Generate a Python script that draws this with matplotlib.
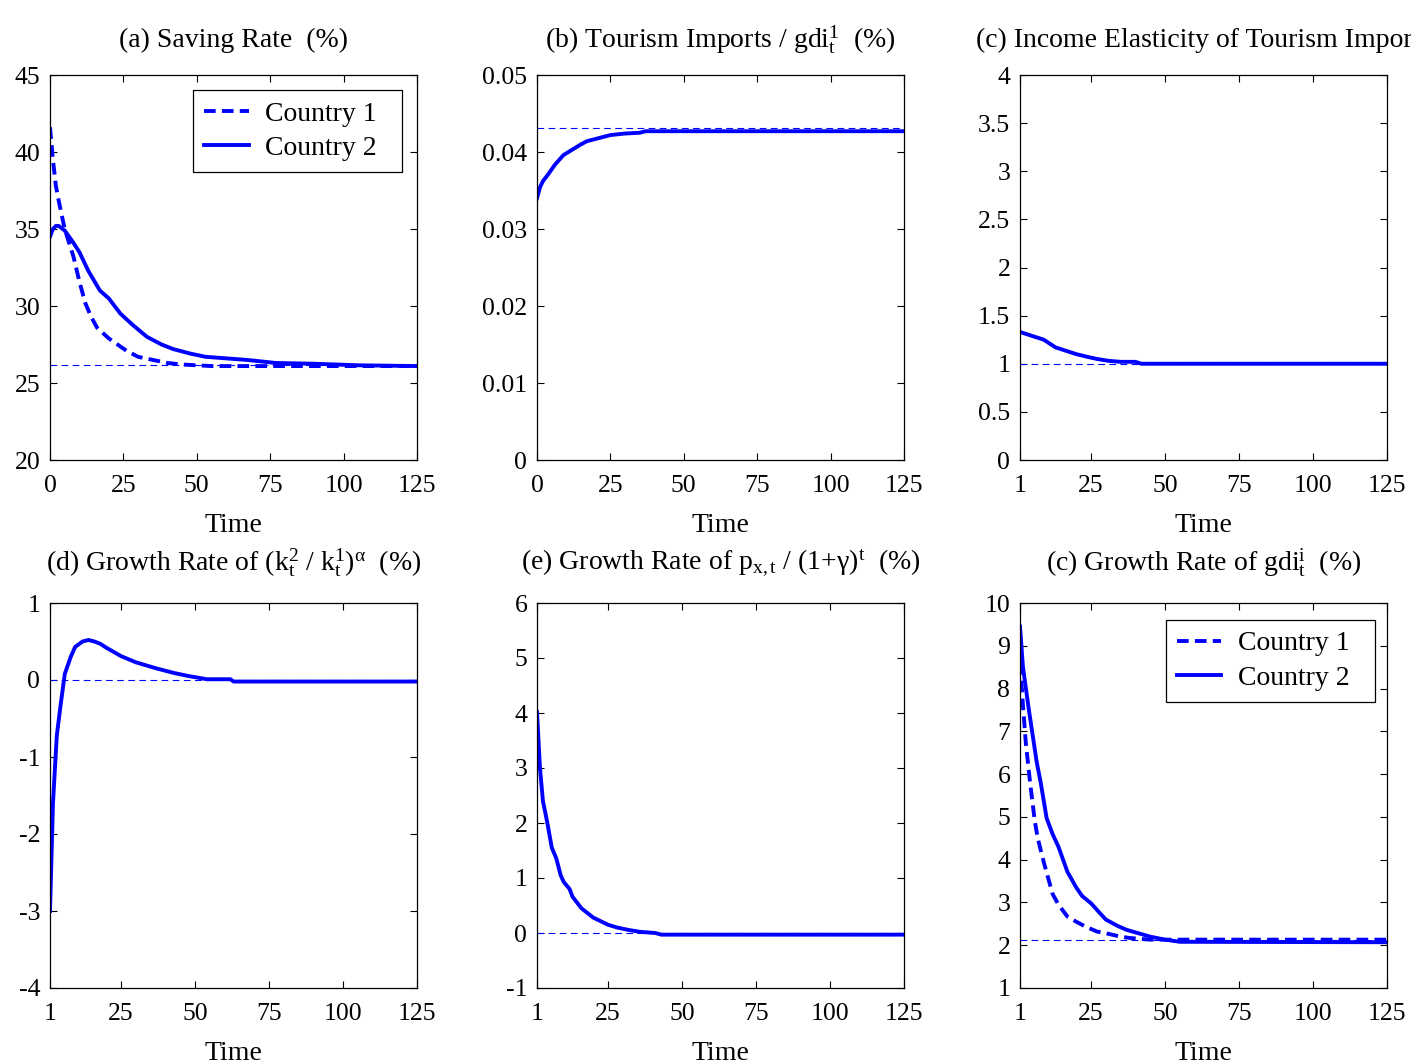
import matplotlib
matplotlib.use("Agg")
import matplotlib.pyplot as plt
import matplotlib.ticker as mticker

plt.rcParams['font.family'] = ['Liberation Serif', 'DejaVu Serif']
plt.rcParams['mathtext.fontset'] = 'custom'
plt.rcParams['mathtext.rm'] = 'Liberation Serif'
plt.rcParams['mathtext.it'] = 'Liberation Serif'
plt.rcParams['mathtext.bf'] = 'Liberation Serif'
plt.rcParams['axes.unicode_minus'] = False

BLUE = '#0000ff'
TICK_FS = 18.5
TEXT_FS = 20

# (a) Saving rate
a_t = [0, 1, 2, 3, 5, 8, 10, 12, 14, 16, 20, 23, 26, 30, 35, 40, 45, 50, 55, 60, 125]
a_c1 = [41.6, 39.5, 37.8, 36.8, 35.0, 33.2, 31.6, 30.2, 29.3, 28.6, 27.9, 27.5, 27.1, 26.7, 26.5, 26.3, 26.2, 26.15, 26.1, 26.1, 26.1]
a_t2 = [0, 1, 2, 3, 5, 8, 10, 13, 17, 20, 24, 28, 33, 38, 42, 48, 53, 60, 67, 77, 90, 105, 125]
a_c2 = [34.5, 35.0, 35.2, 35.2, 34.9, 34.1, 33.5, 32.3, 31.0, 30.5, 29.5, 28.8, 28.0, 27.5, 27.2, 26.9, 26.7, 26.6, 26.5, 26.3, 26.25, 26.15, 26.1]
a_ss = 26.15

# (b) Tourism imports / gdi
b_t = [0, 1, 2, 4, 6, 9, 12, 15, 17, 21, 25, 30, 35, 37, 125]
b_v = [0.0340, 0.0354, 0.0362, 0.0372, 0.0383, 0.0396, 0.0403, 0.0410, 0.0414, 0.0418, 0.0422, 0.0424, 0.0425, 0.0427, 0.0427]
b_ss = 0.0431

# (c) Income elasticity of tourism imports
c_t = [1, 2, 5, 9, 13, 17, 20, 24, 27, 31, 35, 40, 42, 125]
c_v = [1.33, 1.32, 1.29, 1.25, 1.17, 1.13, 1.10, 1.07, 1.05, 1.03, 1.02, 1.02, 1.0, 1.0]
c_ss = 1.0

# (d) Growth rate of (k2/k1)^alpha
d_t = [1, 2, 3.3, 4.5, 6, 8, 9.5, 12, 14, 16, 18, 20, 25, 30, 37, 43, 48, 54, 62, 63, 125]
d_v = [-3.0, -1.6, -0.72, -0.35, 0.08, 0.30, 0.43, 0.50, 0.52, 0.50, 0.47, 0.42, 0.31, 0.23, 0.15, 0.09, 0.05, 0.01, 0.01, -0.02, -0.02]
d_ss = 0.0

# (e) Growth rate of p_x,t / (1+gamma)^t
e_t = [1, 2, 3, 4.5, 6, 7.5, 9, 10, 12, 13, 16, 20, 25, 28, 32, 36, 41, 43, 125]
e_v = [4.02, 3.0, 2.4, 2.0, 1.55, 1.36, 1.05, 0.93, 0.80, 0.66, 0.45, 0.28, 0.15, 0.10, 0.055, 0.02, 0.0, -0.03, -0.03]
e_ss = 0.0

# (f) Growth rate of gdi
f_t1 = [1, 2, 3, 4.5, 6, 7, 9, 12, 14, 17, 20, 23, 27, 30, 35, 38, 45, 125]
f_c1 = [8.6, 7.6, 6.7, 5.75, 4.9, 4.5, 3.95, 3.2, 2.95, 2.67, 2.55, 2.44, 2.32, 2.28, 2.2, 2.17, 2.13, 2.13]
f_t2 = [1, 2, 4, 6.6, 8, 10, 12, 14, 17, 20, 22, 25, 28, 30, 34, 37, 41, 45, 50, 55, 125]
f_c2 = [9.45, 8.5, 7.5, 6.3, 5.8, 4.97, 4.6, 4.3, 3.72, 3.35, 3.15, 2.98, 2.75, 2.6, 2.45, 2.36, 2.28, 2.2, 2.13, 2.08, 2.07]
f_ss = 2.12

series_labels = ['Country 1', 'Country 2']

titles = [
    "(a) Saving Rate  (%)",
    r"(b) Tourism Imports / gdi$_\mathrm{t}^\mathrm{1}$  (%)",
    "(c) Income Elasticity of Tourism Imports",
    r"(d) Growth Rate of (k$_\mathrm{t}^\mathrm{2}$ / k$_\mathrm{t}^\mathrm{1}$)$^{\alpha}$  (%)",
    r"(e) Growth Rate of p$_\mathrm{x,t}$ / (1+$\gamma$)$^\mathrm{t}$  (%)",
    r"(c) Growth Rate of gdi$_\mathrm{t}^\mathrm{i}$  (%)",
]

W, H = 1411, 1062
fig = plt.figure(figsize=(W / 100, H / 100), dpi=100)

lefts = [50, 537, 1020]
tops = [75, 603]
aw, ah = 367, 385
axes = []
for r in range(2):
    for c in range(3):
        ax = fig.add_axes([lefts[c] / W, 1 - (tops[r] + ah) / H, aw / W, ah / H])
        axes.append(ax)

def style(ax, xlim, xticks, ylim, yticks):
    ax.set_xlim(*xlim)
    ax.set_ylim(*ylim)
    ax.set_xticks(xticks)
    ax.set_yticks(yticks)
    ax.yaxis.set_major_formatter(mticker.FuncFormatter(lambda v, p: '%g' % v))
    ax.tick_params(direction='in', top=True, right=True, length=5, width=0.8,
                   labelsize=TICK_FS)
    ax.tick_params(axis='x', pad=11)
    ax.tick_params(axis='y', pad=7)
    for s in ax.spines.values():
        s.set_linewidth(0.9)
    ax.set_xlabel("Time", fontsize=TEXT_FS, labelpad=11)

LW = 2.8
DASH = (0, (3, 1.6))
ref_kw = dict(color=BLUE, lw=0.8, ls=(0, (6, 4)))

def add_legend(ax, anchor):
    h, l = ax.get_legend_handles_labels()
    l = [s + '\u00a0\u00a0' for s in l]
    leg = ax.legend(h, l, loc='upper right', fontsize=TEXT_FS, fancybox=False, edgecolor='black',
                    framealpha=1, handlelength=1.6, handletextpad=0.6, borderpad=0.4,
                    labelspacing=0.33, borderaxespad=0, bbox_to_anchor=anchor)
    leg.get_frame().set_linewidth(0.9)

ax = axes[0]
ax.axhline(a_ss, **ref_kw)
ax.plot(a_t, a_c1, color=BLUE, lw=LW, ls=DASH, label=series_labels[0])
ax.plot(a_t2, a_c2, color=BLUE, lw=LW, label=series_labels[1])
style(ax, (0, 125), [0, 25, 50, 75, 100, 125], (20, 45), [20, 25, 30, 35, 40, 45])
add_legend(ax, (0.959, 0.961))

ax = axes[1]
ax.axhline(b_ss, **ref_kw)
ax.plot(b_t, b_v, color=BLUE, lw=LW)
style(ax, (0, 125), [0, 25, 50, 75, 100, 125], (0, 0.05), [0, 0.01, 0.02, 0.03, 0.04, 0.05])

ax = axes[2]
ax.axhline(c_ss, **ref_kw)
ax.plot(c_t, c_v, color=BLUE, lw=LW)
style(ax, (1, 125), [1, 25, 50, 75, 100, 125], (0, 4), [0, 0.5, 1, 1.5, 2, 2.5, 3, 3.5, 4])

ax = axes[3]
ax.axhline(d_ss, **ref_kw)
ax.plot(d_t, d_v, color=BLUE, lw=LW)
style(ax, (1, 125), [1, 25, 50, 75, 100, 125], (-4, 1), [-4, -3, -2, -1, 0, 1])

ax = axes[4]
ax.axhline(e_ss, **ref_kw)
ax.plot(e_t, e_v, color=BLUE, lw=LW)
style(ax, (1, 125), [1, 25, 50, 75, 100, 125], (-1, 6), [-1, 0, 1, 2, 3, 4, 5, 6])

ax = axes[5]
ax.axhline(f_ss, **ref_kw)
ax.plot(f_t1, f_c1, color=BLUE, lw=LW, ls=DASH, label=series_labels[0])
ax.plot(f_t2, f_c2, color=BLUE, lw=LW, label=series_labels[1])
style(ax, (1, 125), [1, 25, 50, 75, 100, 125], (1, 10), list(range(1, 11)))
add_legend(ax, (0.967, 0.956))

for i, (ax, t) in enumerate(zip(axes, titles)):
    ax.set_title(t, fontsize=TEXT_FS, pad=20 if i < 3 else 24)

fig.savefig("out.png", dpi=100)
